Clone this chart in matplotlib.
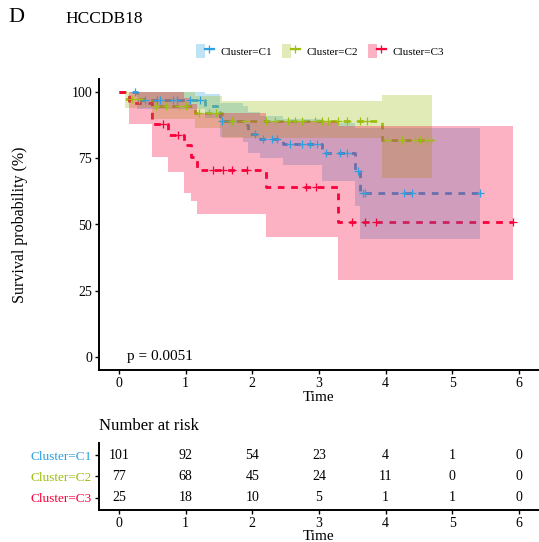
import matplotlib
matplotlib.use("Agg")
import matplotlib.pyplot as plt
from matplotlib.patches import Patch
from matplotlib.lines import Line2D
from matplotlib.legend_handler import HandlerTuple

plt.rcParams['font.family'] = ['Liberation Serif', 'DejaVu Serif']

clusters = ["Cluster=C1", "Cluster=C2", "Cluster=C3"]
colors = ["#2E9FDF", "#9EBE12", "#F8003A"]

# Cluster C1
c1_time = [0, 0.27, 1.29, 1.52, 1.86, 1.94, 2.11, 2.46, 3.04, 3.54, 3.62, 5.42]
c1_surv = [100, 97.0, 94.7, 89.3, 87.5, 84.2, 82.3, 80.4, 76.9, 70.3, 62.0, 62.0]
c1_lower = [100, 93.7, 90.2, 83.2, 81.0, 77.2, 75.0, 72.5, 66.6, 57.0, 44.6, 44.6]
c1_upper = [100, 100, 99.4, 96.0, 94.8, 92.6, 91.2, 89.8, 88.5, 86.5, 86.3, 86.3]
c1_censor = [0.24, 0.39, 0.57, 0.61, 0.81, 0.87, 1.07, 1.22, 1.54, 1.70, 2.04,
             2.16, 2.29, 2.37, 2.57, 2.74, 2.87, 2.97, 3.10, 3.32, 3.42, 3.58,
             3.66, 3.69, 4.27, 4.39, 5.42]

# Cluster C2
c2_time = [0, 0.09, 0.49, 1.14, 1.55, 3.94, 4.69]
c2_surv = [100, 97.4, 94.8, 92.2, 89.2, 82.0, 82.0]
c2_lower = [100, 93.9, 90.0, 86.4, 82.7, 67.5, 67.5]
c2_upper = [100, 100, 99.9, 98.4, 96.8, 98.8, 98.8]
c2_censor = [0.20, 0.30, 0.55, 0.70, 0.90, 1.00, 1.20, 1.35, 1.45, 1.70, 1.89,
             2.21, 2.34, 2.54, 2.64, 2.74, 2.94, 3.04, 3.14, 3.29, 3.42, 3.62,
             3.72, 4.02, 4.24, 4.44, 4.51, 4.62, 4.68]

# Cluster C3
c3_time = [0, 0.15, 0.49, 0.74, 0.98, 1.08, 1.17, 2.20, 3.28, 5.91]
c3_surv = [100, 96.0, 88.0, 84.0, 80.0, 75.5, 70.6, 64.0, 51.0, 51.0]
c3_lower = [100, 88.0, 75.4, 69.7, 62.0, 58.8, 54.0, 45.4, 29.0, 29.0]
c3_upper = [100, 100, 100, 100, 98.0, 95.5, 92.0, 89.0, 87.3, 87.3]
c3_censor = [0.66, 0.89, 1.41, 1.56, 1.70, 1.92, 2.80, 2.95, 3.50, 3.69, 3.86, 5.91]

risk_times = [0, 1, 2, 3, 4, 5, 6]
risk_c1 = [101, 92, 54, 23, 4, 1, 0]
risk_c2 = [77, 68, 45, 24, 11, 0, 0]
risk_c3 = [25, 18, 10, 5, 1, 1, 0]

p_text = "p = 0.0051"

series = [
    (c1_time, c1_surv, c1_lower, c1_upper, c1_censor),
    (c2_time, c2_surv, c2_lower, c2_upper, c2_censor),
    (c3_time, c3_surv, c3_lower, c3_upper, c3_censor),
]
risks = [risk_c1, risk_c2, risk_c3]

W, H = 539, 542
fig = plt.figure(figsize=(W / 100, H / 100), dpi=100)

ax = fig.add_axes([99 / W, 1 - 370 / H, 440 / W, 291 / H])
ax.set_xlim(-0.3, 6.3)
ax.set_ylim(-5, 105)

def surv_at(times, vals, t):
    v = vals[0]
    for ti, vi in zip(times, vals):
        if ti <= t:
            v = vi
    return v

for (t, s, lo, up, cens), col in zip(series, colors):
    ax.step(t, s, where='post', color=col, lw=2.0, ls=(0, (2.4, 2.4)), zorder=2)
    ax.fill_between(t, lo, up, step='post', color=col, alpha=0.3, lw=0, zorder=3)
    cy = [surv_at(t, s, c) for c in cens]
    ax.plot(cens, cy, ls='none', marker='+', ms=6, mew=0.9, color=col, zorder=4)

for side in ['top', 'right']:
    ax.spines[side].set_visible(False)
for side in ['left', 'bottom']:
    ax.spines[side].set_linewidth(1.4)
ax.set_xticks(risk_times)
ax.set_yticks([0, 25, 50, 75, 100])
ax.tick_params(labelsize=10, length=3, width=1.0, pad=2)
ax.set_xlabel("Time", fontsize=11, labelpad=1)
ax.set_ylabel("Survival probability (%)", fontsize=11.5, labelpad=31)
ax.text(0.12, 0, p_text, fontsize=11, va='center', ha='left')

# legend
handles = []
for col in colors:
    handles.append((Patch(facecolor=col, alpha=0.3, lw=0),
                    Line2D([], [], color=col, lw=1.6, marker='+', ms=6, mew=0.9)))
fig.legend(handles, clusters, loc='center', bbox_to_anchor=(320 / W, 1 - 51 / H),
           ncol=3, frameon=False, fontsize=8, handlelength=1.6, handleheight=1.6,
           handletextpad=0.6, columnspacing=0.9,
           handler_map={tuple: HandlerTuple(ndivide=None, pad=0)})

fig.text(65 / W, 1 - 19 / H, "HCCDB18", fontsize=12.5, va='center', ha='left')
fig.text(8 / W, 1 - 17 / H, "D", fontsize=16, va='center', ha='left')

# risk table
rx = fig.add_axes([99 / W, 1 - 509.7 / H, 440 / W, 66.7 / H])
rx.set_xlim(-0.3, 6.3)
rx.set_ylim(0.43, 3.57)
rows = [3, 2, 1]
for r, vals in zip(rows, risks):
    for tt, v in zip(risk_times, vals):
        rx.text(tt, r, str(v), ha='center', va='center', fontsize=10)
rx.set_yticks(rows)
rx.set_yticklabels(clusters)
for lab, col in zip(rx.get_yticklabels(), colors):
    lab.set_color(col)
rx.set_xticks(risk_times)
for side in ['top', 'right']:
    rx.spines[side].set_visible(False)
for side in ['left', 'bottom']:
    rx.spines[side].set_linewidth(1.4)
rx.tick_params(labelsize=10, length=3, width=1.0, pad=2)
rx.tick_params(axis='y', labelsize=9.5)
rx.set_xlabel("Time", fontsize=11, labelpad=0)
fig.text(99 / W, 1 - 426 / H, "Number at risk", fontsize=12, va='center', ha='left')

fig.savefig("out.png", dpi=100)
